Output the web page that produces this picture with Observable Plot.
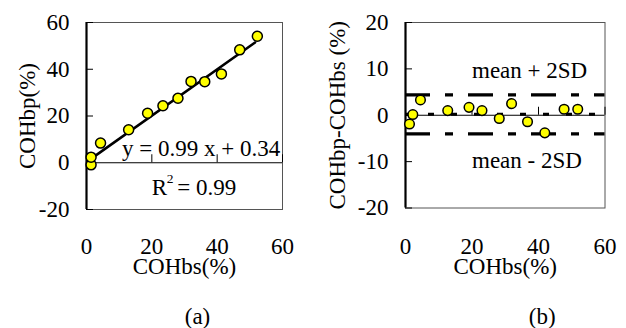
<!DOCTYPE html>
<html><head><meta charset="utf-8">
<script src="https://cdn.jsdelivr.net/npm/d3@7"></script>
<script src="https://cdn.jsdelivr.net/npm/@observablehq/plot@0.6"></script>
<style>
body{margin:0;background:#fff;}
#wrap{display:flex;width:626px;height:328px;}
#wrap svg{display:block;}
</style></head><body><div id="wrap"></div>
<script>
// ---- data ----
const xTickValues = [0, 20, 40, 60];
const yTicksA = [-20, 0, 20, 40, 60];
const yTicksB = [-20, -10, 0, 10, 20];
const cohbsA = [1.4, 1.4, 4.3, 12.9, 18.7, 23.4, 28.0, 32.0, 36.2, 41.3, 46.9, 52.3];
const cohbpA = [-0.9, 2.4, 8.4, 14.1, 21.2, 24.4, 27.6, 34.8, 34.7, 38.0, 48.3, 54.1];
const cohbsB = [1.2, 2.2, 4.5, 12.7, 19.1, 23.0, 28.2, 31.9, 36.7, 41.9, 47.7, 51.8];
const diffB = [-1.9, 0.15, 3.3, 1.0, 1.7, 1.0, -0.7, 2.5, -1.4, -3.8, 1.3, 1.3];
const fitSlope = 0.99, fitIntercept = 0.34;
const meanDiff = 0.2, upperLimit = 4.4, lowerLimit = -4.0;
const xLabel = "COHbs(%)";
const yLabelA = "COHbp(%)";
const yLabelB = "COHbp-COHbs (%)";
const eqText = "y = 0.99 x + 0.34";
const r2Parts = ["R", "2", "= 0.99"];
const limitTexts = ["mean + 2SD", "mean - 2SD"];
const panelTags = ["(a)", "(b)"];

const FONT = "Liberation Serif, Times New Roman, serif";
const FS = 23;
const W = 313, H = 328;

const ptsA = cohbsA.map((x, i) => ({x, y: cohbpA[i]}));
const ptsB = cohbsB.map((x, i) => ({x, y: diffB[i]}));
const fitLine = d3.extent(cohbsA).map(x => ({x: x - 0.7, y: fitSlope * (x - 0.7) + fitIntercept}));

function common(ml, mr, mt, mb) { return {width: W, height: H, marginLeft: ml, marginRight: mr, marginTop: mt, marginBottom: mb,
  style: {fontFamily: FONT, fontSize: FS + "px", background: "white", color: "black"}}; }

// Panel (a)
const mlA = 86, mrA = 31, mtA = 22, mbA = 119;
const chartA = Plot.plot({
  ...common(mlA, mrA, mtA, mbA),
  x: {domain: [0, 60]},
  y: {domain: [-20, 60]},
  marks: [
    Plot.frame({stroke: "#555", strokeWidth: 1}),
    Plot.ruleY([0], {stroke: "black", strokeWidth: 1.2}),
    Plot.ruleX([0], {stroke: "black", strokeWidth: 2.2}),
    Plot.tickY(yTicksA, {y: d => d, insetRight: W - mlA - mrA - 7, stroke: "black"}),
    Plot.ruleX(xTickValues, {x: d => d, y1: 0, y2: 0, insetTop: -8, stroke: "black"}),
    Plot.axisY({ticks: yTicksA, tickSize: 0, tickPadding: 17, label: null, tickFormat: d => String(d), fontSize: FS}),
    Plot.axisX({ticks: xTickValues, tickSize: 0, tickPadding: 28, label: null, tickFormat: d => String(d), fontSize: FS}),
    Plot.line(fitLine, {x: "x", y: "y", stroke: "black", strokeWidth: 2.6}),
    Plot.dot(ptsA, {x: "x", y: "y", r: 5, fill: "#ffff00", stroke: "black", strokeWidth: 1.5}),
    Plot.text([eqText], {x: 10.9, y: 6.0, textAnchor: "start", lineAnchor: "middle", fontSize: FS}),
    Plot.text([r2Parts[0]], {x: 20, y: -10.8, textAnchor: "start", lineAnchor: "middle", fontSize: FS}),
    Plot.text([r2Parts[1]], {x: 20, y: -10.8, dx: 14.8, dy: -9.5, textAnchor: "start", lineAnchor: "middle", fontSize: 13.5}),
    Plot.text([r2Parts[2]], {x: 20, y: -10.8, dx: 25.5, textAnchor: "start", lineAnchor: "middle", fontSize: FS}),
    Plot.text([yLabelA], {frameAnchor: "left", dx: -59, rotate: -90, textAnchor: "middle", lineAnchor: "middle", fontSize: FS}),
    Plot.text([xLabel], {frameAnchor: "bottom", dy: 57, lineAnchor: "middle", fontSize: FS}),
    Plot.text([panelTags[0]], {frameAnchor: "bottom", dx: 13, dy: 106.8, lineAnchor: "middle", fontSize: FS})
  ]
});

// Panel (b)
const mlB = 92, mrB = 21.5, mtB = 22, mbB = 120.5;
const chartB = Plot.plot({
  ...common(mlB, mrB, mtB, mbB),
  x: {domain: [0, 60]},
  y: {domain: [-20, 20]},
  marks: [
    Plot.frame({stroke: "#555", strokeWidth: 1}),
    Plot.ruleY([0], {stroke: "black", strokeWidth: 1.2}),
    Plot.ruleX([0], {stroke: "black", strokeWidth: 2.2}),
    Plot.tickY(yTicksB, {y: d => d, insetRight: W - mlB - mrB - 7, stroke: "black"}),
    Plot.ruleX(xTickValues, {x: d => d, y1: 0, y2: 0, insetTop: -8, stroke: "black"}),
    Plot.axisY({ticks: yTicksB, tickSize: 0, tickPadding: 17, label: null, tickFormat: d => String(d), fontSize: FS}),
    Plot.axisX({ticks: xTickValues, tickSize: 0, tickPadding: 29.5, label: null, tickFormat: d => String(d), fontSize: FS}),
    Plot.ruleY([upperLimit, lowerLimit], {y: d => d, stroke: "black", strokeWidth: 3.3, strokeDasharray: "25,15,8,15"}),
    Plot.ruleY([meanDiff], {y: d => d, stroke: "black", strokeWidth: 3, strokeDasharray: "6,17"}),
    Plot.dot(ptsB, {x: "x", y: "y", r: 4.8, fill: "#ffff00", stroke: "black", strokeWidth: 1.5}),
    Plot.text([limitTexts[0]], {x: 20, y: 9.65, textAnchor: "start", lineAnchor: "middle", fontSize: FS}),
    Plot.text([limitTexts[1]], {x: 20, y: -9.7, textAnchor: "start", lineAnchor: "middle", fontSize: FS}),
    Plot.text([yLabelB], {frameAnchor: "left", dx: -68, rotate: -90, textAnchor: "middle", lineAnchor: "middle", fontSize: FS}),
    Plot.text([xLabel], {frameAnchor: "bottom", dy: 58.5, lineAnchor: "middle", fontSize: FS}),
    Plot.text([panelTags[1]], {frameAnchor: "bottom", dx: 37, dy: 108.3, lineAnchor: "middle", fontSize: FS})
  ]
});

document.getElementById("wrap").append(chartA, chartB);
</script></body></html>
